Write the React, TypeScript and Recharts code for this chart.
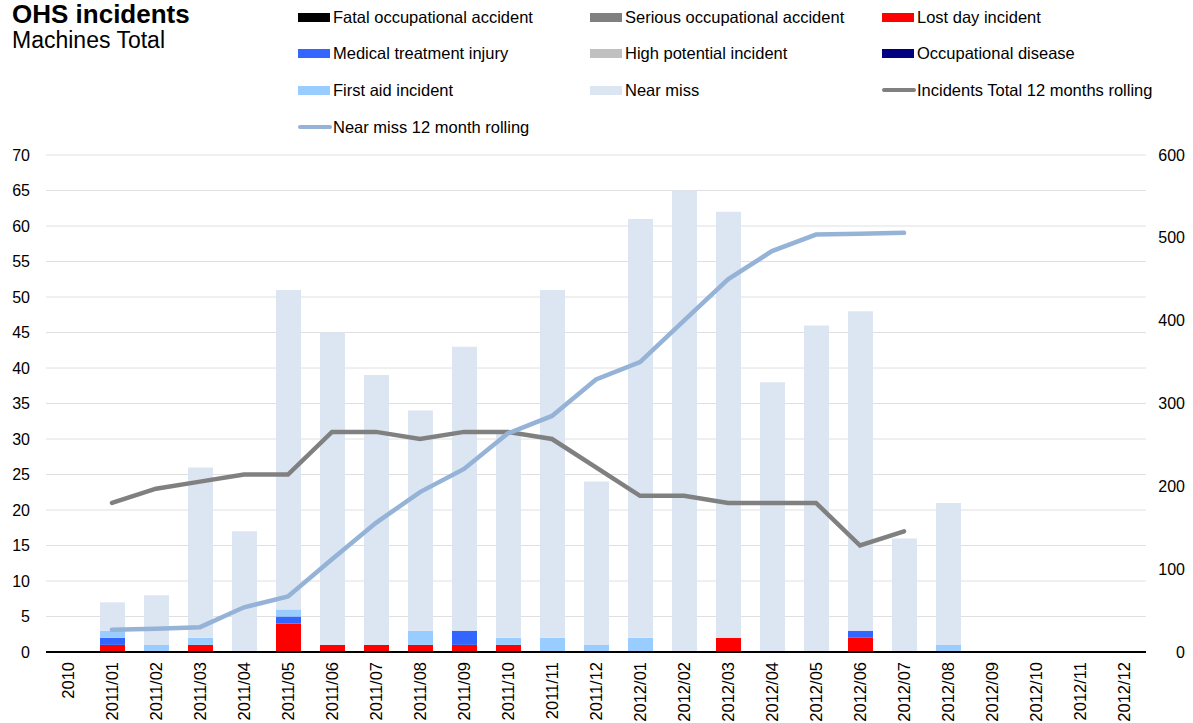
import { ComposedChart, Bar, Line, XAxis, YAxis, CartesianGrid } from 'recharts';

const months = [
  '2010', '2011/01', '2011/02', '2011/03', '2011/04', '2011/05', '2011/06', '2011/07', '2011/08',
  '2011/09', '2011/10', '2011/11', '2011/12', '2012/01', '2012/02', '2012/03', '2012/04', '2012/05',
  '2012/06', '2012/07', '2012/08', '2012/09', '2012/10', '2012/11', '2012/12',
];

const fatal = [0, 0, 0, 0, 0, 0, 0, 0, 0, 0, 0, 0, 0, 0, 0, 0, 0, 0, 0, 0, 0, 0, 0, 0, 0];
const serious = [0, 0, 0, 0, 0, 0, 0, 0, 0, 0, 0, 0, 0, 0, 0, 0, 0, 0, 0, 0, 0, 0, 0, 0, 0];
const lostDay = [0, 1, 0, 1, 0, 4, 1, 1, 1, 1, 1, 0, 0, 0, 0, 2, 0, 0, 2, 0, 0, 0, 0, 0, 0];
const medical = [0, 1, 0, 0, 0, 1, 0, 0, 0, 2, 0, 0, 0, 0, 0, 0, 0, 0, 1, 0, 0, 0, 0, 0, 0];
const highPotential = [0, 0, 0, 0, 0, 0, 0, 0, 0, 0, 0, 0, 0, 0, 0, 0, 0, 0, 0, 0, 0, 0, 0, 0, 0];
const occDisease = [0, 0, 0, 0, 0, 0, 0, 0, 0, 0, 0, 0, 0, 0, 0, 0, 0, 0, 0, 0, 0, 0, 0, 0, 0];
const firstAid = [0, 1, 1, 1, 0, 1, 0, 0, 2, 0, 1, 2, 1, 2, 0, 0, 0, 0, 0, 0, 1, 0, 0, 0, 0];
const nearMiss = [0, 4, 7, 24, 17, 45, 44, 38, 31, 40, 29, 49, 23, 59, 65, 60, 38, 46, 45, 16, 20, 0, 0, 0, 0];

const incidentsRolling = [
  null, 21, 23, 24, 25, 25, 31, 31, 30, 31, 31, 30, 26, 22, 22, 21, 21, 21, 15, 17, null, null, null, null, null,
];
const nearMissRolling = [
  null, 27, 28, 30, 54, 67, 112, 156, 193, 221, 264, 285, 329, 350, 400, 450, 484, 504, 505, 506, null, null, null, null, null,
];

const leftTicks = [0, 5, 10, 15, 20, 25, 30, 35, 40, 45, 50, 55, 60, 65, 70];
const rightTicks = [0, 100, 200, 300, 400, 500, 600];

const data = months.map((month, i) => ({
  month,
  fatal: fatal[i],
  serious: serious[i],
  lostDay: lostDay[i],
  medical: medical[i],
  highPotential: highPotential[i],
  occDisease: occDisease[i],
  firstAid: firstAid[i],
  nearMiss: nearMiss[i],
  incidentsRolling: incidentsRolling[i],
  nearMissRolling: nearMissRolling[i],
}));

const legendItems = [
  { label: 'Fatal occupational accident', color: '#000000', kind: 'box' },
  { label: 'Serious occupational accident', color: '#808080', kind: 'box' },
  { label: 'Lost day incident', color: '#ff0000', kind: 'box' },
  { label: 'Medical treatment injury', color: '#3366ff', kind: 'box' },
  { label: 'High potential incident', color: '#c0c0c0', kind: 'box' },
  { label: 'Occupational disease', color: '#000080', kind: 'box' },
  { label: 'First aid incident', color: '#99ccff', kind: 'box' },
  { label: 'Near miss', color: '#dce6f2', kind: 'box' },
  { label: 'Incidents Total 12 months rolling', color: '#808080', kind: 'line' },
  { label: 'Near miss 12 month rolling', color: '#95b3d7', kind: 'line' },
];

const FONT = '"Liberation Sans", Arial, Helvetica, sans-serif';

function MonthTick({ x, y, payload }: any) {
  return (
    <text
      x={x}
      y={y}
      transform={`rotate(-90, ${x}, ${y})`}
      textAnchor="end"
      dominantBaseline="central"
      fontSize={16.5}
      fontFamily={FONT}
      fill="#000"
    >
      {payload.value}
    </text>
  );
}

function RightTick({ x, y, payload }: any) {
  return (
    <text x={x + 39} y={y} textAnchor="end" dominantBaseline="central" fontSize={16} fontFamily={FONT} fill="#000">
      {payload.value}
    </text>
  );
}

function LeftTick({ x, y, payload }: any) {
  return (
    <text x={x} y={y} textAnchor="end" dominantBaseline="central" fontSize={16} fontFamily={FONT} fill="#000">
      {payload.value}
    </text>
  );
}

export default function App() {
  const colX = [298, 590, 882];
  const rowY = [17, 53, 90, 127];
  return (
    <div style={{ position: 'absolute', left: 0, top: 0, width: 1193, height: 723, background: '#fff', fontFamily: FONT }}>
      <div style={{ position: 'absolute', left: 12, top: -1, fontSize: 26, fontWeight: 'bold', lineHeight: '30px' }}>
        OHS incidents
      </div>
      <div style={{ position: 'absolute', left: 12, top: 26, fontSize: 23, lineHeight: '28px' }}>Machines Total</div>
      {legendItems.map((item, i) => {
        const left = colX[i % 3];
        const cy = rowY[Math.floor(i / 3)];
        return (
          <div key={item.label} style={{ position: 'absolute', left, top: cy - 10, height: 20, display: 'flex', alignItems: 'center' }}>
            {item.kind === 'box' ? (
              <div style={{ width: 32, height: 9, background: item.color, marginRight: 3 }} />
            ) : (
              <div style={{ width: 34, height: 4.5, borderRadius: 2, background: item.color, marginRight: 1 }} />
            )}
            <span style={{ fontSize: 16.5, color: '#000', whiteSpace: 'nowrap' }}>{item.label}</span>
          </div>
        );
      })}
      <ComposedChart
        width={1193}
        height={723}
        data={data}
        margin={{ top: 155, right: 0, bottom: 6, left: 0 }}
        barCategoryGap="43%"
      >
        <CartesianGrid vertical={false} stroke="#e0e0e0" yAxisId="left" />
        <XAxis
          dataKey="month"
          interval={0}
          height={65}
          tickSize={0}
          tickMargin={10}
          tick={<MonthTick />}
          axisLine={{ stroke: '#000', strokeWidth: 2 }}
          tickLine={false}
        />
        <YAxis
          yAxisId="left"
          width={46}
          domain={[0, 70]}
          ticks={leftTicks}
          axisLine={false}
          tickLine={false}
          tickSize={0}
          tickMargin={16}
          tick={<LeftTick />}
        />
        <YAxis
          yAxisId="right"
          orientation="right"
          width={47}
          domain={[0, 600]}
          ticks={rightTicks}
          axisLine={false}
          tickLine={false}
          tickSize={0}
          tickMargin={0}
          tick={<RightTick />}
        />
        <Bar yAxisId="left" dataKey="fatal" stackId="a" fill="#000000" barSize={25} isAnimationActive={false} />
        <Bar yAxisId="left" dataKey="serious" stackId="a" fill="#808080" barSize={25} isAnimationActive={false} />
        <Bar yAxisId="left" dataKey="lostDay" stackId="a" fill="#ff0000" barSize={25} isAnimationActive={false} />
        <Bar yAxisId="left" dataKey="medical" stackId="a" fill="#3366ff" barSize={25} isAnimationActive={false} />
        <Bar yAxisId="left" dataKey="highPotential" stackId="a" fill="#c0c0c0" barSize={25} isAnimationActive={false} />
        <Bar yAxisId="left" dataKey="occDisease" stackId="a" fill="#000080" barSize={25} isAnimationActive={false} />
        <Bar yAxisId="left" dataKey="firstAid" stackId="a" fill="#99ccff" barSize={25} isAnimationActive={false} />
        <Bar yAxisId="left" dataKey="nearMiss" stackId="a" fill="#dce6f2" barSize={25} isAnimationActive={false} />
        <Line
          yAxisId="left"
          type="linear"
          dataKey="incidentsRolling"
          stroke="#808080"
          strokeWidth={4.5}
          strokeLinecap="round"
          dot={false}
          activeDot={false}
          isAnimationActive={false}
        />
        <Line
          yAxisId="right"
          type="linear"
          dataKey="nearMissRolling"
          stroke="#95b3d7"
          strokeWidth={4.5}
          strokeLinecap="round"
          dot={false}
          activeDot={false}
          isAnimationActive={false}
        />
      </ComposedChart>
    </div>
  );
}
